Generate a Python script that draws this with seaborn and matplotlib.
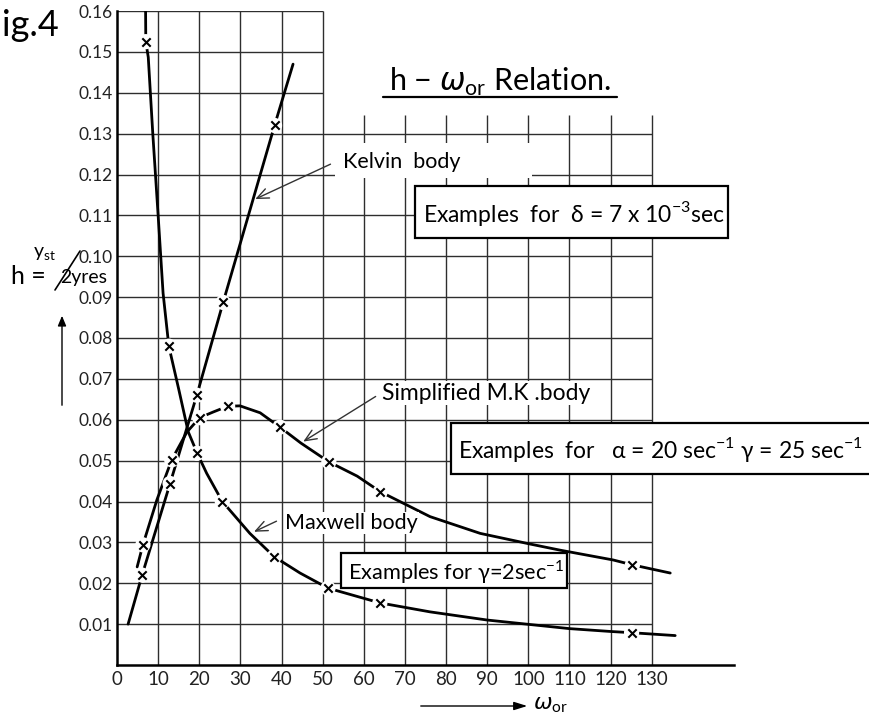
import matplotlib
matplotlib.use("Agg")
import matplotlib.pyplot as plt
from matplotlib.patches import Rectangle, FancyArrowPatch
from matplotlib.lines import Line2D
import numpy as np
import pandas as pd
import seaborn as sns

# ---------------- data ----------------
x_ticks = [0, 10, 20, 30, 40, 50, 60, 70, 80, 90, 100, 110, 120, 130]
y_ticks = [0.01, 0.02, 0.03, 0.04, 0.05, 0.06, 0.07, 0.08, 0.09, 0.10,
           0.11, 0.12, 0.13, 0.14, 0.15, 0.16]
y_tick_labels = ["0.01", "0.02", "0.03", "0.04", "0.05", "0.06", "0.07", "0.08",
                 "0.09", "0.10", "0.11", "0.12", "0.13", "0.14", "0.15", "0.16"]

maxwell_curve_w = [6.95, 7.0, 7.6, 8.7, 10.0, 11.2, 12.6, 15.0, 17.3, 19.5, 21.8, 25.6,
                   32.3, 38.2, 44.5, 51.3, 63.9, 76.1, 90.0, 110.0, 120.0, 125.1, 135.7]
maxwell_curve_h = [0.160, 0.1525, 0.1487, 0.130, 0.110, 0.091, 0.078, 0.0675, 0.0571,
                   0.0518, 0.0469, 0.040, 0.0322, 0.0265, 0.0225, 0.0188, 0.0152, 0.013,
                   0.011, 0.0089, 0.0082, 0.0079, 0.0072]
maxwell_mark_w = [7.0, 12.6, 19.5, 25.6, 38.2, 51.3, 63.9, 125.1]
maxwell_mark_h = [0.1525, 0.078, 0.0518, 0.040, 0.0265, 0.0188, 0.0152, 0.0079]

kelvin_curve_w = [2.7, 6.1, 12.9, 19.4, 25.8, 38.3, 42.8]
kelvin_curve_h = [0.010, 0.022, 0.0444, 0.066, 0.0887, 0.132, 0.147]
kelvin_mark_w = [6.1, 12.9, 19.4, 25.8, 38.3]
kelvin_mark_h = [0.022, 0.0444, 0.066, 0.0887, 0.132]

mk_curve_w = [4.9, 6.3, 9.7, 13.3, 17.0, 20.1, 23.4, 26.9, 29.9, 34.8, 39.6, 44.7, 51.5,
              58.4, 64.0, 76.1, 88.3, 100.4, 107.7, 120.6, 125.3, 134.5]
mk_curve_h = [0.024, 0.0294, 0.0404, 0.0502, 0.0570, 0.0605, 0.0619, 0.0633, 0.0634,
              0.0617, 0.0582, 0.0543, 0.0497, 0.0462, 0.0424, 0.0363, 0.0322, 0.0296,
              0.0281, 0.0257, 0.0245, 0.0225]
mk_mark_w = [6.3, 13.3, 20.1, 26.9, 39.6, 51.5, 64.0, 125.3]
mk_mark_h = [0.0294, 0.0502, 0.0605, 0.0633, 0.0582, 0.0497, 0.0424, 0.0245]

# arrow targets on the curves
kelvin_arrow = (33.0, 0.1137)
mk_arrow = (44.7, 0.0543)
maxwell_arrow = (32.7, 0.0323)

# ---------------- style ----------------
sns.set_theme(style="white")
plt.rcParams["font.family"] = ["Lato", "DejaVu Sans"]
plt.rcParams["mathtext.fontset"] = "custom"
plt.rcParams["mathtext.rm"] = "Lato"
plt.rcParams["mathtext.it"] = "DejaVu Sans:italic"

W, H = 870, 717
fig = plt.figure(figsize=(W / 100, H / 100), dpi=100)
fig.patch.set_facecolor("white")


def P(px, py):
    return (px / W, 1 - py / H)


ax = fig.add_axes([117 / W, (H - 665) / H, (734 - 117) / W, (665 - 11) / H])
ax.set_xlim(0, 150)
ax.set_ylim(0, 0.16)
ax.set_facecolor("white")

for s in ["top", "right"]:
    ax.spines[s].set_visible(False)
for s in ["left", "bottom"]:
    ax.spines[s].set_color("black")
    ax.spines[s].set_linewidth(1.8)

# grid (irregular, as in the drawing)
gc = "#2e2e2e"
for yv in y_ticks:
    xmax = 50 if yv > 0.135 else 130
    ax.hlines(yv, 0, xmax, color=gc, lw=1.0, zorder=1)
for xv in x_ticks[1:]:
    ymax = 0.16 if xv <= 50 else 0.1345
    ax.vlines(xv, 0, ymax, color=gc, lw=1.0, zorder=1)

ax.set_xticks(x_ticks)
ax.set_xticklabels([str(v) for v in x_ticks], fontsize=13.5, color="#222222")
ax.set_yticks(y_ticks)
ax.set_yticklabels(y_tick_labels, fontsize=12.5, color="#222222")
ax.tick_params(axis="both", length=0)
ax.tick_params(axis="x", pad=4)
ax.tick_params(axis="y", pad=3)
ax.set_xlabel("")
ax.set_ylabel("")

# curves
for cw, ch in [(maxwell_curve_w, maxwell_curve_h),
               (kelvin_curve_w, kelvin_curve_h),
               (mk_curve_w, mk_curve_h)]:
    sns.lineplot(x=cw, y=ch, sort=False, estimator=None, color="black",
                 lw=2.0, ax=ax, zorder=3)

for mw, mh in [(maxwell_mark_w, maxwell_mark_h),
               (kelvin_mark_w, kelvin_mark_h),
               (mk_mark_w, mk_mark_h)]:
    sns.scatterplot(x=mw, y=mh, s=120, color="white", edgecolor="none",
                    ax=ax, zorder=4, legend=False)
    sns.scatterplot(x=mw, y=mh, s=36, marker="x", color="black",
                    linewidth=1.5, ax=ax, zorder=5, legend=False)

# ---------------- annotations ----------------
txt_kw = dict(color="black", va="center", ha="left")

# white patch behind Kelvin label
fig.add_artist(Rectangle(P(335, 178), 197 / W, 35 / H, transform=fig.transFigure,
                         facecolor="white", edgecolor="none", zorder=8))
fig.text(*P(343, 162), "Kelvin  body", fontsize=15.5, zorder=9, **txt_kw)
fig.text(*P(382, 393), "Simplified M.K .body", fontsize=16.5, zorder=9,
         bbox=dict(facecolor="white", edgecolor="none", pad=1), **txt_kw)
fig.text(*P(285, 523), "Maxwell body", fontsize=15.5, zorder=9,
         bbox=dict(facecolor="white", edgecolor="none", pad=1), **txt_kw)

arrow_kw = dict(arrowstyle="->,head_length=0.7,head_width=0.3", color="#333333", lw=1.0)
ax.annotate("", xy=kelvin_arrow, xycoords="data", xytext=P(333, 163),
            textcoords="figure fraction", arrowprops=arrow_kw, zorder=9)
ax.annotate("", xy=mk_arrow, xycoords="data", xytext=P(378, 395),
            textcoords="figure fraction", arrowprops=arrow_kw, zorder=9)
ax.annotate("", xy=maxwell_arrow, xycoords="data", xytext=P(279, 520),
            textcoords="figure fraction", arrowprops=arrow_kw, zorder=9)


def box(x0, y0, x1, y1):
    fig.add_artist(Rectangle(P(x0, y1), (x1 - x0) / W, (y1 - y0) / H,
                             transform=fig.transFigure, facecolor="white",
                             edgecolor="black", lw=1.6, zorder=8, clip_on=False))


box(415, 186, 728, 238)
fig.text(*P(423, 214), "Examples  for  δ = 7 x 10$^{-3}$sec", fontsize=16.5, zorder=9, **txt_kw)

box(451, 423, 900, 474)
fig.text(*P(458, 450), "Examples  for   α = 20 sec$^{-1}$ γ = 25 sec$^{-1}$", fontsize=16.5,
         zorder=9, **txt_kw)

box(341, 553, 567, 588)
fig.text(*P(348, 572), "Examples for γ=2sec$^{-1}$", fontsize=15.7, zorder=9, **txt_kw)

# title with underline
fig.text(*P(500, 82), "h $-$ $\\omega_{\\mathrm{or}}$ Relation.", fontsize=22,
         ha="center", va="center", color="black")
fig.add_artist(Line2D([383 / W, 617 / W], [1 - 97 / H, 1 - 97 / H], color="black",
                      lw=1.6, transform=fig.transFigure))

# figure number (cut off at the left edge)
fig.text(*P(2, 26), "ig.4", fontsize=26, **txt_kw)

# y-axis quantity h = yst / 2yres
fig.text(*P(11, 277), "h =", fontsize=18, **txt_kw)
fig.text(*P(33, 254), "y$_{\\mathrm{st}}$", fontsize=14, **txt_kw)
fig.text(*P(60, 278), "2yres", fontsize=14, **txt_kw)
fig.add_artist(Line2D([55 / W, 80 / W], [1 - 290 / H, 1 - 251 / H], color="black",
                      lw=1.2, transform=fig.transFigure))
fig.add_artist(FancyArrowPatch(
    P(62, 408), P(62, 313), transform=fig.transFigure,
    arrowstyle="-|>,head_length=6,head_width=2.5", color="black", lw=1.0))

# x-axis quantity
fig.add_artist(FancyArrowPatch(
    P(418, 706), P(530, 706), transform=fig.transFigure,
    arrowstyle="-|>,head_length=8,head_width=2.5", color="black", lw=1.0))
fig.text(*P(533, 705), "$\\omega_{\\mathrm{or}}$", fontsize=16, **txt_kw)

fig.savefig("out.png", dpi=100, facecolor="white")
